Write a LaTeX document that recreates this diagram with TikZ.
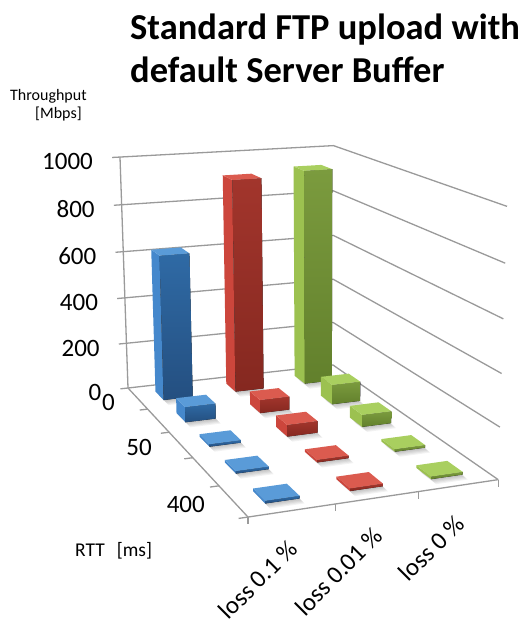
\documentclass[tikz,border=0pt]{standalone}
\usepackage{fontspec}
\setmainfont{Carlito}
\usetikzlibrary{calc}
\definecolor{gridc}{HTML}{9A9A9A}
\definecolor{bT}{HTML}{5A9BD8}\definecolor{bS}{HTML}{4588CC}\definecolor{bF1}{HTML}{2F6AA5}\definecolor{bF2}{HTML}{244F80}
\definecolor{rT}{HTML}{DB5B4F}\definecolor{rS}{HTML}{CC463C}\definecolor{rF1}{HTML}{A2352C}\definecolor{rF2}{HTML}{852820}
\definecolor{gT}{HTML}{A9CF5F}\definecolor{gS}{HTML}{9CC150}\definecolor{gF1}{HTML}{7B9B3E}\definecolor{gF2}{HTML}{62802C}
% perspective projection: u = series axis (0..1), v = depth back->front (0..1), z = value/1000
\newcommand\pj[4]{%
  \pgfmathsetmacro\pjW{1+0.0548*(#2)-0.2169*(#3)-0.0398*(#4)}%
  \pgfmathsetmacro\pjX{(128+223.25*(#2)+66.2*(#3)-12.78*(#4))/\pjW}%
  \pgfmathsetmacro\pjY{(388-3.0*(#2)+16.9*(#3)-237.2*(#4))/\pjW}%
  \coordinate (#1) at (\pjX,\pjY);}
\newcommand\cbar[7]{%
  \pj{#1a}{#2}{#5}{0}\pj{#1b}{#3}{#5}{0}\pj{#1c}{#3}{#5}{#6}\pj{#1d}{#2}{#5}{#6}%
  \pj{#1e}{#2}{#4}{#6}\pj{#1f}{#3}{#4}{#6}\pj{#1g}{#2}{#4}{0}%
  \fill[#7S] (#1a) -- (#1d) -- (#1e) -- (#1g) -- cycle;
  \fill[top color=#7F1,bottom color=#7F2] (#1a) -- (#1b) -- (#1c) -- (#1d) -- cycle;
  \fill[#7T] (#1d) -- (#1c) -- (#1f) -- (#1e) -- cycle;}
\newcommand\cshadow[5]{%
  \pj{#1p}{#2}{#4}{0}\pj{#1q}{#3}{#4}{0}\pj{#1r}{#3}{#5}{0}\pj{#1s}{#2}{#5}{0}%
  \foreach \k in {1,2,3,4,5}{\fill[black,opacity=0.05] ([shift={(\k,\k)}]#1p) -- ([shift={(\k,\k)}]#1q) -- ([shift={(\k,\k)}]#1r) -- ([shift={(\k,\k)}]#1s) -- cycle;}}
\begin{document}
\begin{tikzpicture}[x=1pt,y=-1pt,
  grid/.style={draw=gridc,line width=1.3pt},
  lab/.style={inner sep=0pt,font=\fontsize{25}{30}\selectfont},
  small/.style={inner sep=0pt,anchor=base west,font=\fontsize{16}{19}\selectfont}]
\useasboundingbox (0,0) rectangle (531,621);
% walls and gridlines
\foreach \z/\n in {0/0,0.2/1,0.4/2,0.6/3,0.8/4,1/5}{
  \pj{t\n}{-0.035}{0}{\z}\pj{l\n}{0}{0}{\z}\pj{k\n}{1}{0}{\z}\pj{r\n}{1}{1}{\z}
  \draw[grid] (t\n) -- (k\n) -- (r\n);
}
\draw[grid] (l0) -- (l5);
% depth axis
\pj{fl}{0}{1}{0}
\draw[grid] (l0) -- (fl) -- (r0);
\foreach \v/\n in {0.2/1,0.4/2,0.6/3,0.8/4,1/5}{
  \pj{dt\n}{-0.035}{\v}{0}\pj{da\n}{0}{\v}{0}
  \draw[grid] (dt\n) -- (da\n);
}
\foreach \u/\n in {0/0,0.33333/1,0.66667/2,1/3}{
  \pj{ct\n}{\u}{1}{0}
  \draw[grid] (ct\n) -- ++(0,7);
}
% shadows
\foreach \r/\vc in {1/0.1,2/0.3,3/0.5,4/0.7,5/0.9}{
  \pgfmathsetmacro\va{\vc-0.04}\pgfmathsetmacro\vb{\vc+0.04}
  \cshadow{SB\r}{0.1}{0.2333}{\va}{\vb}
  \cshadow{SR\r}{0.4333}{0.5667}{\va}{\vb}
  \cshadow{SG\r}{0.7667}{0.9}{\va}{\vb}
}
% bars, back to front, right to left
\cbar{G1}{0.7667}{0.9}{0.06}{0.14}{0.934}{g}
\cbar{R1}{0.4333}{0.5667}{0.06}{0.14}{0.914}{r}
\cbar{B1}{0.1}{0.2333}{0.06}{0.14}{0.62}{b}
\cbar{G2}{0.7667}{0.9}{0.26}{0.34}{0.084}{g}
\cbar{R2}{0.4333}{0.5667}{0.26}{0.34}{0.056}{r}
\cbar{B2}{0.1}{0.2333}{0.26}{0.34}{0.064}{b}
\cbar{G3}{0.7667}{0.9}{0.46}{0.54}{0.05}{g}
\cbar{R3}{0.4333}{0.5667}{0.46}{0.54}{0.048}{r}
\cbar{B3}{0.1}{0.2333}{0.46}{0.54}{0.01}{b}
\cbar{G4}{0.7667}{0.9}{0.66}{0.74}{0.01}{g}
\cbar{R4}{0.4333}{0.5667}{0.66}{0.74}{0.01}{r}
\cbar{B4}{0.1}{0.2333}{0.66}{0.74}{0.01}{b}
\cbar{G5}{0.7667}{0.9}{0.86}{0.94}{0.01}{g}
\cbar{R5}{0.4333}{0.5667}{0.86}{0.94}{0.01}{r}
\cbar{B5}{0.1}{0.2333}{0.86}{0.94}{0.01}{b}
% value axis labels
\foreach \n/\t in {0/0,1/200,2/400,3/600,4/800,5/1000}{
  \node[lab,anchor=east] (yl\n) at ([xshift=-19pt,yshift=-4pt]t\n) {\t};
}
% depth labels
\node[lab,anchor=east] (dl1) at (115,402.5) {0};
\node[lab,anchor=east] (dl3) at (152,447.5) {50};
\node[lab,anchor=east] (dl5) at (205,504) {400};
% category labels
\pj{cc1}{0.16667}{1}{0}\pj{cc2}{0.5}{1}{0}\pj{cc3}{0.83333}{1}{0}
\node[lab,rotate=45,anchor=base east] (cl1) at ($(cc1)+(7,40)$) {loss 0.1 \%};
\node[lab,rotate=45,anchor=base east] (cl2) at ($(cc2)+(7,40)$) {loss 0.01 \%};
\node[lab,rotate=45,anchor=base east] (cl3) at ($(cc3)+(7,40)$) {loss 0 \%};
% titles
\node[inner sep=0pt,anchor=base west,font=\fontsize{36.5}{43}\selectfont\bfseries] (title1) at (130,39.3) {Standard FTP upload with};
\node[inner sep=0pt,anchor=base west,font=\fontsize{36.5}{43}\selectfont\bfseries] (title2) at (130,82) {default Server Buffer};
\node[small] (ytitle1) at (10,100) {Throughput};
\node[small] (ytitle2) at (35,118) {[Mbps]};
\node[inner sep=0pt,anchor=base west,font=\fontsize{19.5}{23}\selectfont] (dtitle) at (75,556.5) {RTT\hspace{12pt}[ms]};
\end{tikzpicture}
\end{document}
